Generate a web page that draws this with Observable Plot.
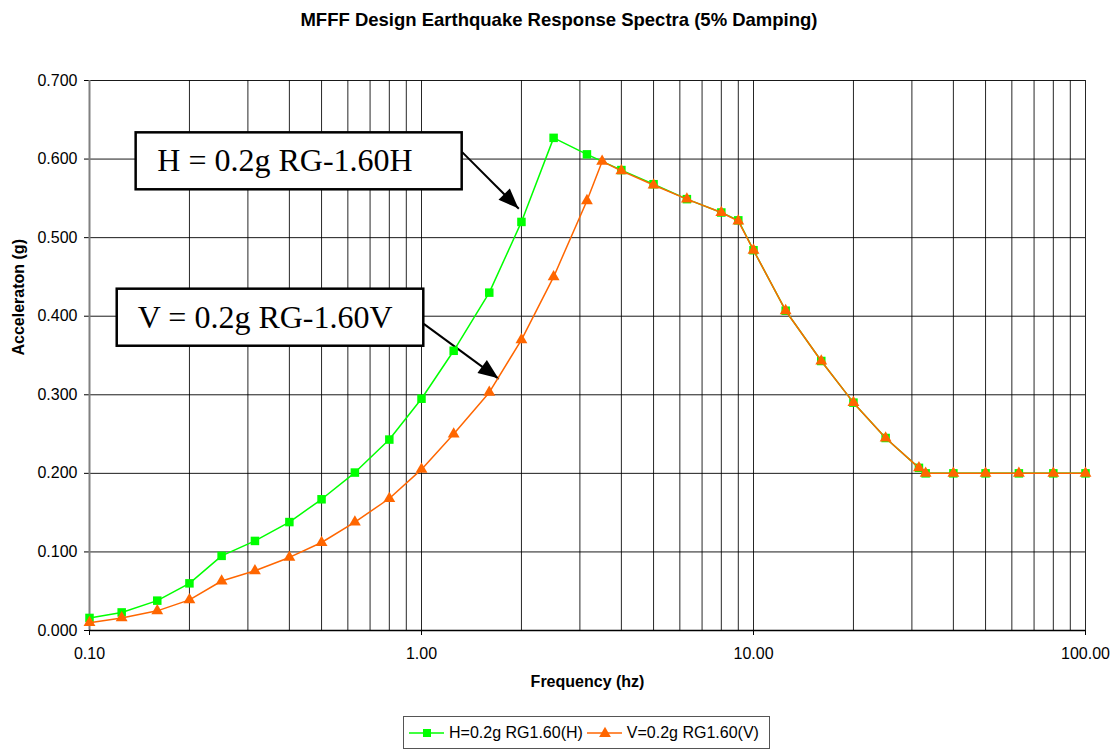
<!DOCTYPE html>
<html>
<head>
<meta charset="utf-8">
<script src="https://cdn.jsdelivr.net/npm/d3@7"></script>
<script src="https://cdn.jsdelivr.net/npm/@observablehq/plot@0.6"></script>
<style>
  html, body { margin: 0; padding: 0; background: #fff; }
  body { width: 1116px; height: 749px; position: relative; overflow: hidden; font-family: "Liberation Sans", Arial, sans-serif; }
  #title { height: 40px; line-height: 40px; text-align: center; font-weight: bold; font-size: 18.5px; color: #000; padding-left: 2px; }
  #legend { position: absolute; left: 403px; top: 716px; width: 365px; height: 31px; border: 1px solid #555; display: flex; align-items: center; font-size: 16px; color: #000; }
  #legend .item { display: flex; align-items: center; }
  #legend svg { display: block; }
</style>
</head>
<body>
<div id="title">MFFF Design Earthquake Response Spectra (5% Damping)</div>
<div id="chart"></div>
<div id="legend"></div>
<script>
// ---- data ----
const freqH = [0.1, 0.125, 0.16, 0.2, 0.25, 0.315, 0.4, 0.5, 0.63, 0.8, 1.0, 1.25, 1.6, 2.0, 2.5, 3.15, 4.0, 5.0, 6.3, 8.0, 9.0, 10, 12.5, 16, 20, 25, 31.5, 33, 40, 50, 63, 80, 100];
const accH  = [0.016, 0.023, 0.038, 0.060, 0.095, 0.114, 0.138, 0.167, 0.201, 0.243, 0.295, 0.356, 0.430, 0.520, 0.627, 0.606, 0.586, 0.568, 0.549, 0.532, 0.522, 0.484, 0.407, 0.343, 0.290, 0.245, 0.207, 0.200, 0.200, 0.200, 0.200, 0.200, 0.200];
const freqV = [0.1, 0.125, 0.16, 0.2, 0.25, 0.315, 0.4, 0.5, 0.63, 0.8, 1.0, 1.25, 1.6, 2.0, 2.5, 3.15, 3.5, 4.0, 5.0, 6.3, 8.0, 9.0, 10, 12.5, 16, 20, 25, 31.5, 33, 40, 50, 63, 80, 100];
const accV  = [0.010, 0.016, 0.025, 0.039, 0.063, 0.076, 0.093, 0.112, 0.138, 0.168, 0.205, 0.250, 0.303, 0.370, 0.450, 0.547, 0.597, 0.585, 0.567, 0.549, 0.532, 0.521, 0.484, 0.407, 0.343, 0.290, 0.245, 0.207, 0.200, 0.200, 0.200, 0.200, 0.200, 0.200];

const seriesNames = ["H=0.2g RG1.60(H)", "V=0.2g RG1.60(V)"];
const xTickValues = [0.1, 1, 10, 100];
const yTickValues = [0, 0.1, 0.2, 0.3, 0.4, 0.5, 0.6, 0.7];
const xGridMultipliers = [1, 2, 3, 4, 5, 6, 7, 8, 9];
const xGridDecades = [0.1, 1, 10];
const xTitle = "Frequency (hz)";
const yTitle = "Acceleraton (g)";

// annotation boxes (data coordinates)
const annoText = ["H = 0.2g RG-1.60H", "V = 0.2g RG-1.60V"];
const annoTextX = [0.160, 0.1398];
const annoTextY = [0.5976, 0.3977];
const annoBoxX1 = [0.1382, 0.1212];
const annoBoxX2 = [1.326, 1.016];
const annoBoxY1 = [0.5609, 0.3618];
const annoBoxY2 = [0.6334, 0.4344];
const arrowX1 = [1.326, 1.016];
const arrowY1 = [0.6088, 0.3903];
const arrowX2 = [1.964, 1.709];
const arrowY2 = [0.5367, 0.3203];

// ---- build tables ----
const H = freqH.map((f, i) => ({f, a: accH[i]}));
const V = freqV.map((f, i) => ({f, a: accV[i]}));
const xGrid = xGridDecades.flatMap(d => xGridMultipliers.map(m => +(m * d).toPrecision(3))).concat([100]);
const boxes = annoText.map((t, i) => ({t, tx: annoTextX[i], ty: annoTextY[i], x1: annoBoxX1[i], x2: annoBoxX2[i], y1: annoBoxY1[i], y2: annoBoxY2[i]}));
const arrows = arrowX1.map((x1, i) => ({x1, y1: arrowY1[i], x2: arrowX2[i], y2: arrowY2[i]}));

const green = "#00ff00";
const orange = "#ff6600";

const chart = Plot.plot({
  width: 1116,
  height: 660,
  marginLeft: 89,
  marginRight: 31,
  marginTop: 40,
  marginBottom: 70,
  style: {fontFamily: "'Liberation Sans', Arial, sans-serif", fontSize: "16px", color: "#000", background: "#fff"},
  x: {type: "log", domain: [0.1, 100], ticks: xTickValues, tickFormat: d3.format(".2f"), tickSize: 5, tickPadding: 12, label: null},
  y: {domain: [0, 0.7], ticks: yTickValues, tickFormat: d3.format(".3f"), tickSize: 5, tickPadding: 7, label: null},
  marks: [
    Plot.ruleX(xGrid, {stroke: "#000", strokeOpacity: 0.85, strokeWidth: 1}),
    Plot.ruleY(yTickValues, {stroke: "#000", strokeOpacity: 0.9, strokeWidth: 1}),
    Plot.ruleX([0.1], {stroke: "#808080", strokeWidth: 2}),
    Plot.ruleY([0], {stroke: "#000", strokeWidth: 1.5}),
    Plot.rect(boxes, {x1: "x1", x2: "x2", y1: "y1", y2: "y2", fill: "#fff", stroke: "#000", strokeWidth: 2.5}),
    Plot.text(boxes, {x: "tx", y: "ty", text: "t", textAnchor: "start", fontFamily: "'Liberation Serif', 'Times New Roman', serif", fontSize: 32, fill: "#000"}),
    Plot.link(arrows, {x1: "x1", y1: "y1", x2: "x2", y2: "y2", stroke: "#000", strokeWidth: 2}),
    Plot.line(H, {x: "f", y: "a", stroke: green, strokeWidth: 1.5}),
    Plot.dot(H, {x: "f", y: "a", symbol: "square", r: 4.8, fill: green, stroke: "none"}),
    Plot.line(V, {x: "f", y: "a", stroke: orange, strokeWidth: 1.5}),
    Plot.dot(V, {x: "f", y: "a", symbol: "triangle", r: 4.4, fill: orange, stroke: "none"}),
    Plot.text([xTitle], {frameAnchor: "bottom", dy: 56, fontWeight: "bold", fontSize: 16, fill: "#000"}),
    Plot.text([yTitle], {frameAnchor: "left", dx: -71, rotate: -90, fontWeight: "bold", fontSize: 16, fill: "#000"})
  ]
});

// filled arrow heads, positioned through the plot's own scales
const xs = chart.scale("x"), ys = chart.scale("y");
const svgSel = d3.select(chart);
arrows.forEach(a => {
  const px1 = xs.apply(a.x1), py1 = ys.apply(a.y1), px2 = xs.apply(a.x2), py2 = ys.apply(a.y2);
  const dx = px2 - px1, dy = py2 - py1, L = Math.hypot(dx, dy);
  const ux = dx / L, uy = dy / L, nx = -uy, ny = ux;
  const len = 20, hw = 8;
  const bx = px2 - ux * len, by = py2 - uy * len;
  svgSel.append("polygon")
    .attr("points", `${px2},${py2} ${bx + nx * hw},${by + ny * hw} ${bx - nx * hw},${by - ny * hw}`)
    .attr("fill", "#000");
});

document.getElementById("chart").appendChild(chart);

// legend
const legend = d3.select("#legend");
const items = [
  {name: seriesNames[0], color: green, shape: "square"},
  {name: seriesNames[1], color: orange, shape: "triangle"}
];
items.forEach((it, i) => {
  const div = legend.append("div").attr("class", "item").style("margin-left", i === 0 ? "5px" : "4px");
  const s = div.append("svg").attr("width", 36).attr("height", 20);
  s.append("line").attr("x1", 0).attr("x2", 35).attr("y1", 10).attr("y2", 10).attr("stroke", it.color).attr("stroke-width", 1.5);
  if (it.shape === "square") {
    s.append("rect").attr("x", 14).attr("y", 6).attr("width", 8).attr("height", 8).attr("fill", it.color);
  } else {
    s.append("path").attr("d", d3.symbol(d3.symbolTriangle, 60)()).attr("transform", "translate(18,10.5)").attr("fill", it.color);
  }
  div.append("span").text(it.name).style("margin-left", "4px");
});
</script>
</body>
</html>
